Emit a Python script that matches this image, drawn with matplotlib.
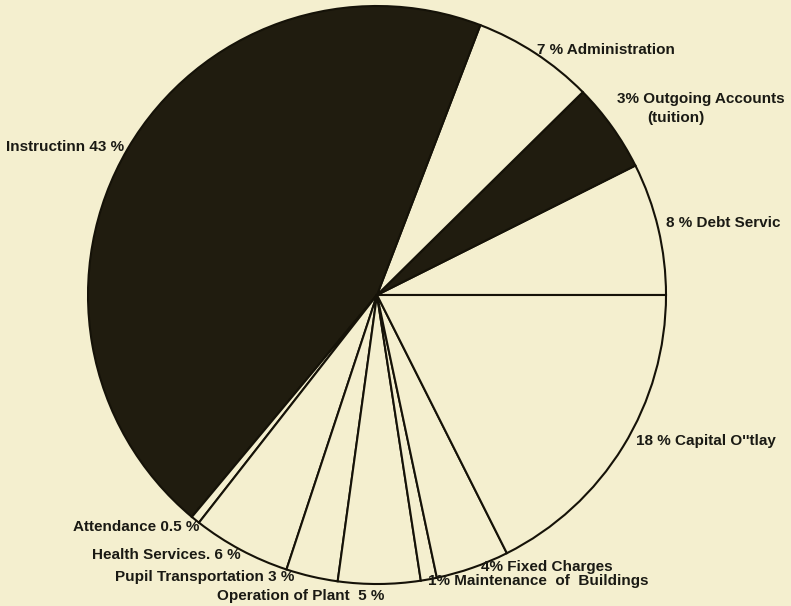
import matplotlib.pyplot as plt

# wedge sizes as drawn (percent, counterclockwise from 3 o'clock)
categories = ["Debt Service", "Outgoing Accounts", "Administration", "Instruction",
              "Attendance", "Health Services", "Pupil Transportation",
              "Operation of Plant", "Maintenance of Buildings", "Fixed Charges",
              "Capital Outlay"]
sizes = [7.4, 5.0, 6.8, 44.8, 0.5, 5.5, 2.9, 4.6, 0.9, 4.1, 17.6]
dark = [False, True, False, True, False, False, False, False, False, False, False]

# label text and where it sits (pixel coords of the page, y down)
labels = ["8 % Debt Servic", "3% Outgoing Accounts\n(tuition)", "7 % Administration",
          "Instructinn 43 %", "Attendance 0.5 %", "Health Services. 6 %",
          "Pupil Transportation 3 %", "Operation of Plant  5 %",
          "1% Maintenance  of  Buildings", "4% Fixed Charges", "18 % Capital O''tlay"]
label_xy = [(666, 223), (617, 99), (537, 50), (6, 147), (73, 527), (92, 555),
            (115, 577), (217, 596), (428, 581), (481, 567), (636, 441)]

bg = "#f4efcf"
ink = "#201c0f"
W, H = 791, 606

plt.rcParams['font.family'] = ['Liberation Sans', 'DejaVu Sans']

fig = plt.figure(figsize=(W / 100, H / 100), dpi=100, facecolor=bg)
ax = fig.add_axes([0, 0, 1, 1])
ax.set_facecolor(bg)

colors = [ink if d else bg for d in dark]
ax.pie(sizes, colors=colors, startangle=0, counterclock=True,
       center=(377, H - 295), radius=289, frame=True,
       wedgeprops=dict(edgecolor="#151208", linewidth=1.5))

fs = 11
for txt, (px, py) in zip(labels, label_xy):
    if "\n" in txt:
        first, second = txt.split("\n")
        ax.text(px, H - py, first, ha="left", va="center", fontsize=fs,
                fontweight="bold", color="#1a1a14")
        ax.text(px + 59, H - py - 19, second, ha="center", va="center", fontsize=fs,
                fontweight="bold", color="#1a1a14")
    else:
        ax.text(px, H - py, txt, ha="left", va="center", fontsize=fs,
                fontweight="bold", color="#1a1a14")

ax.set_xlim(0, W)
ax.set_ylim(0, H)
ax.set_aspect("equal")
ax.axis("off")

fig.savefig("out.png", dpi=100, facecolor=bg)
